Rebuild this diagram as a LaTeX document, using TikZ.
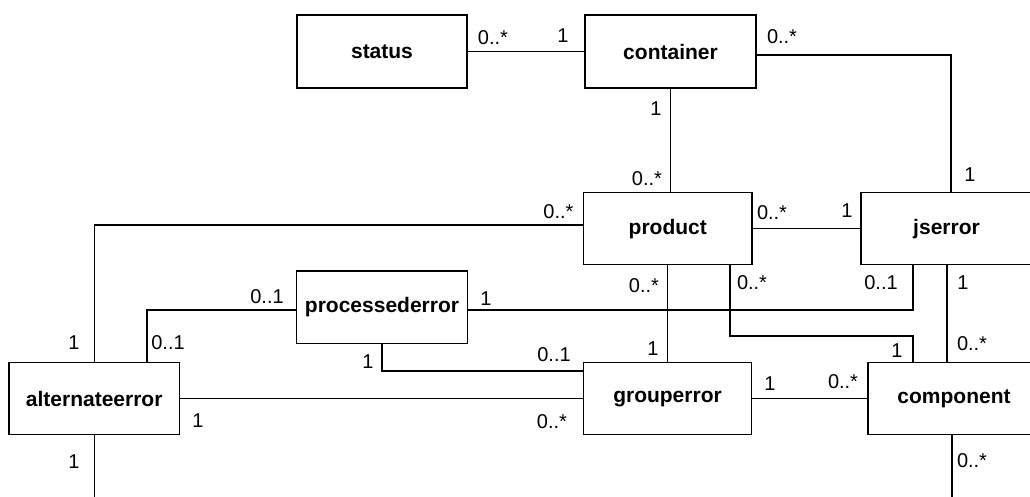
\documentclass[tikz,border=0pt]{standalone}
\usepackage{fontspec}
\setmainfont{Liberation Sans}
\begin{document}
\begin{tikzpicture}[x=1pt,y=-1pt,
  entity/.style={draw, line width=1.3pt, inner sep=0pt,
    font=\fontsize{21}{25}\selectfont\bfseries},
  assoc/.style={line width=1.3pt},
  mult/.style={inner sep=0pt, font=\fontsize{20}{24}\selectfont}]
\useasboundingbox (0,0) rectangle (1030,496);
\clip (0,0) rectangle (1030,496);
\fill[white] (0,0) rectangle (1030,496);

% entities
\node[entity, minimum width=170pt, minimum height=73pt] (status) at (382,51.5) {status};
\node[entity, minimum width=171pt, minimum height=73pt] (container) at (670.5,51.5) {container};
\node[entity, minimum width=168.5pt, minimum height=72pt] (product) at (667.75,228.7) {product};
\node[entity, minimum width=171pt, minimum height=72pt] (jserror) at (946.5,228.7) {jserror};
\node[entity, minimum width=170.6pt, minimum height=72.3pt] (processederror) at (382,307.2) {processederror};
\node[entity, minimum width=170.3pt, minimum height=72pt] (alternateerror) at (94.2,398.7) {alternateerror};
\node[entity, minimum width=168.4pt, minimum height=72pt] (grouperror) at (667.5,398.7) {grouperror};
\node[entity, minimum width=172pt, minimum height=72pt] (component) at (954,398.7) {component};

% loose ends leaving the sheet
\coordinate (altdown) at (94.2,500);
\coordinate (compdown) at (952,500);

% associations
\draw[assoc] (status.east) -- (container.west);
\draw[assoc] (container.east |- 0,55) -| (jserror.north -| 951,0);
\draw[assoc] (container.south) -- (product.north -| container.south);
\draw[assoc] (product.west |- 0,225) -| (alternateerror.north);
\draw[assoc] (product.east |- 0,228.3) -- (jserror.west |- 0,228.3);
\draw[assoc] (product.south) -- (grouperror.north -| product.south);
\draw[assoc] (product.south -| 730,0) |- (913,336) -- (component.north -| 913,0);
\draw[assoc] (jserror.south -| 913,0) |- (processederror.east |- 0,310);
\draw[assoc] (jserror.south -| 947,0) -- (component.north -| 947,0);
\draw[assoc] (processederror.west |- 0,310) -| (alternateerror.north -| 147,0);
\draw[assoc] (processederror.south) |- (grouperror.west |- 0,371);
\draw[assoc] (alternateerror.east) -- (grouperror.west);
\draw[assoc] (grouperror.east) -- (component.west);
\draw[assoc] (alternateerror.south) -- (altdown);
\draw[assoc] (component.south -| 952,0) -- (compdown);

% multiplicities
\node[mult] (m1a) at (493,38) {0..*};
\node[mult] (m1b) at (563,35.5) {1};
\node[mult] (m2a) at (782,37) {0..*};
\node[mult] (m2b) at (970,174.5) {1};
\node[mult] (m3a) at (656,109) {1};
\node[mult] (m3b) at (647,179) {0..*};
\node[mult] (m4a) at (558.5,212) {0..*};
\node[mult] (m4b) at (74,343) {1};
\node[mult] (m5a) at (772,213) {0..*};
\node[mult] (m5b) at (847,211) {1};
\node[mult] (m6a) at (644,286) {0..*};
\node[mult] (m6b) at (653,348.5) {1};
\node[mult] (m7a) at (752,283) {0..*};
\node[mult] (m7b) at (897,351) {1};
\node[mult] (m8a) at (881,283) {0..1};
\node[mult] (m8b) at (486,298.5) {1};
\node[mult] (m9a) at (963,283) {1};
\node[mult] (m9b) at (972,344) {0..*};
\node[mult] (m10a) at (267,297) {0..1};
\node[mult] (m10b) at (168,343) {0..1};
\node[mult] (m11a) at (368,362) {1};
\node[mult] (m11b) at (554,355) {0..1};
\node[mult] (m12a) at (198,421) {1};
\node[mult] (m12b) at (552,422) {0..*};
\node[mult] (m13a) at (770,384) {1};
\node[mult] (m13b) at (843,382) {0..*};
\node[mult] (m14) at (74,462) {1};
\node[mult] (m15) at (972,460.5) {0..*};
\end{tikzpicture}
\end{document}
